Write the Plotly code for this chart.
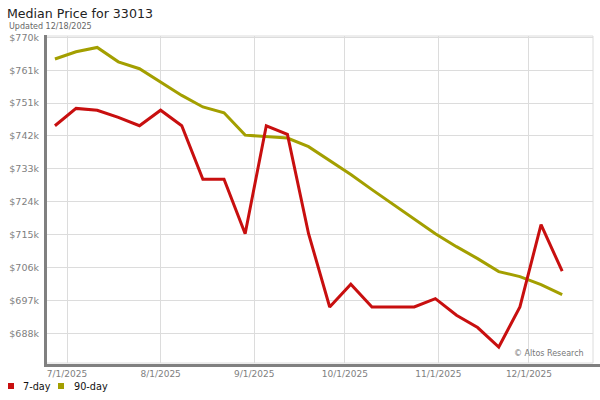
import plotly.graph_objects as go
import pandas as pd

# ---------------- data ----------------
dates = pd.date_range("2025-06-27", periods=25, freq="7D")
seven_day = [745.5, 750.3, 749.8, 747.8, 745.5, 749.8, 745.5, 730.7, 730.7, 715.6,
             745.5, 743.1, 715.6, 695.3, 701.6, 695.3, 695.3, 695.3, 697.6, 693.0,
             689.6, 684.2, 695.3, 718.1, 705.2]
ninety_day = [764.0, 766.0, 767.2, 763.2, 761.3, 757.7, 753.9, 750.7, 749.1, 742.9,
              742.4, 742.1, 739.7, 735.9, 732.0, 727.8, 723.7, 719.8, 715.6, 712.0,
              708.7, 705.1, 703.7, 701.5, 698.7]
y_tick_labels = ["$688k", "$697k", "$706k", "$715k", "$724k",
                 "$733k", "$742k", "$751k", "$761k", "$770k"]
x_tick_dates = ["2025-07-01", "2025-08-01", "2025-09-01", "2025-10-01", "2025-11-01", "2025-12-01"]
x_tick_labels = ["7/1/2025", "8/1/2025", "9/1/2025", "10/1/2025", "11/1/2025", "12/1/2025"]

RED = "#c80f0f"
OLIVE = "#a39f00"
FONT = "DejaVu Sans"

# ---------------- geometry helpers (pixels -> paper) ----------------
L, R, T, B = 45, 593, 36, 363
W, H = R - L, B - T
def px(x):
    return (x - L) / W
def py(y):
    return (B - y) / H

y_lo, y_hi = 688000, 770000
y_tick_vals = [y_lo + i * (y_hi - y_lo) / 9 for i in range(10)]

fig = go.Figure()
fig.add_trace(go.Scatter(x=dates, y=[v * 1000 for v in ninety_day], mode="lines", name="90-day",
                         line=dict(color=OLIVE, width=3), showlegend=False))
fig.add_trace(go.Scatter(x=dates, y=[v * 1000 for v in seven_day], mode="lines", name="7-day",
                         line=dict(color=RED, width=3), showlegend=False))

fig.update_layout(
    width=600, height=400,
    margin=dict(l=L, r=600 - R, t=T, b=400 - B, autoexpand=False),
    paper_bgcolor="white", plot_bgcolor="white",
    font=dict(family=FONT, color="#808080"),
    title=dict(text="Median Price for 33013", x=7 / 600, xanchor="left", xref="container",
               y=1 - 13.5 / 400, yanchor="middle", yref="container",
               font=dict(family=FONT, size=12.6, color="#222222")),
    xaxis=dict(type="date", range=["2025-06-23 17:00", "2025-12-22 05:00"],
               tickvals=x_tick_dates, ticktext=x_tick_labels,
               showgrid=True, gridcolor="#dcdcdc", gridwidth=1,
               zeroline=False, showline=False, ticks="", automargin=False,
               ticklabelstandoff=4,
               tickfont=dict(size=9, color="#808080")),
    yaxis=dict(range=[679780, 770360], tickvals=y_tick_vals, ticktext=y_tick_labels,
               showgrid=True, gridcolor="#dcdcdc", gridwidth=1,
               zeroline=False, showline=False, ticks="", automargin=False,
               ticklabelstandoff=5,
               tickfont=dict(size=9.5, color="#808080")),
    showlegend=False,
)

shapes = [
    # light plot border
    dict(type="rect", xref="paper", yref="paper", x0=0, x1=1, y0=0, y1=1,
         line=dict(color="#dcdcdc", width=1), fillcolor="rgba(0,0,0,0)", layer="below"),
    # thick left axis bar
    dict(type="line", xref="paper", yref="paper", x0=px(45.5), x1=px(45.5), y0=py(365.5), y1=py(35),
         line=dict(color="#808080", width=3)),
    # thick bottom axis bar
    dict(type="line", xref="paper", yref="paper", x0=px(44), x1=px(600), y0=py(365.5), y1=py(365.5),
         line=dict(color="#808080", width=3)),
    # legend squares
    dict(type="rect", xref="paper", yref="paper", x0=px(8), x1=px(14), y0=py(389), y1=py(383),
         line=dict(width=0), fillcolor=RED),
    dict(type="rect", xref="paper", yref="paper", x0=px(58), x1=px(64), y0=py(389), y1=py(383),
         line=dict(width=0), fillcolor=OLIVE),
]
fig.update_layout(shapes=shapes)

annotations = [
    dict(text="Updated 12/18/2025", xref="paper", yref="paper", x=px(7), y=py(26),
         xanchor="left", yanchor="middle", showarrow=False,
         font=dict(family=FONT, size=8, color="#666666")),
    dict(text="© Altos Research", xref="paper", yref="paper", x=px(586), y=py(353.5),
         xanchor="right", yanchor="middle", showarrow=False,
         font=dict(family=FONT, size=8, color="#777777")),
    dict(text="7-day", xref="paper", yref="paper", x=px(21), y=py(386),
         xanchor="left", yanchor="middle", showarrow=False,
         font=dict(family=FONT, size=9.7, color="#111111")),
    dict(text="90-day", xref="paper", yref="paper", x=px(72), y=py(386),
         xanchor="left", yanchor="middle", showarrow=False,
         font=dict(family=FONT, size=9.7, color="#111111")),
]
fig.update_layout(annotations=annotations)

fig.write_html("out.html", config={"displayModeBar": False},
               post_script="document.body.style.margin='0';")
